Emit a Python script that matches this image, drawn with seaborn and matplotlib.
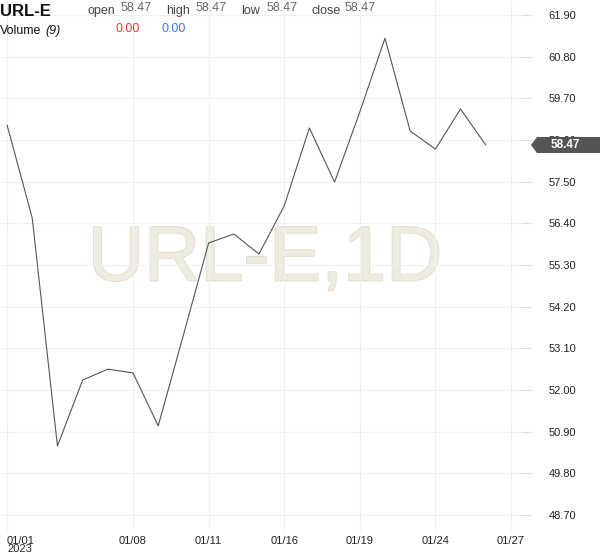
import matplotlib
matplotlib.use("Agg")
import matplotlib.pyplot as plt
import matplotlib.patheffects as pe
from matplotlib.patches import Polygon
import numpy as np
import pandas as pd
import seaborn as sns

# daily closes, one per trading session
closes = [59.00, 56.54, 50.52, 52.26, 52.55, 52.45, 51.05, 53.45, 55.88, 56.12,
          55.59, 56.86, 58.92, 57.49, 59.34, 61.29, 58.84, 58.36, 59.42, 58.47]
tick_pos = [0, 5, 8, 11, 14, 17, 20]
tick_labels = ["01/01\n2023", "01/08", "01/11", "01/16", "01/19", "01/24", "01/27"]
y_ticks = [48.70, 49.80, 50.90, 52.00, 53.10, 54.20, 55.30, 56.40, 57.50,
           58.60, 59.70, 60.80, 61.90]

df = pd.DataFrame({"idx": np.arange(len(closes)), "close": closes})

sns.set_style("white")
plt.rcParams["font.family"] = ["Liberation Sans", "DejaVu Sans"]

W, H = 600, 558
fig = plt.figure(figsize=(W / 100, H / 100), dpi=100)
ax = fig.add_axes([0, 1 - 530 / H, 521 / W, 530 / H])

sns.lineplot(data=df, x="idx", y="close", ax=ax, color="#555555", linewidth=0.8)

ax.set_xlim(-0.28, 20.40)
ax.set_ylim(48.30, 62.30)
ax.set_xticks(tick_pos)
ax.set_xticklabels(tick_labels, fontsize=8, color="#222222", linespacing=0.85)
ax.get_xticklabels()[0].set_ha("left")
ax.set_yticks(y_ticks)
ax.yaxis.tick_right()
ax.set_yticklabels([f"{v:.2f}" for v in y_ticks], fontsize=8, color="#222222")
ax.tick_params(axis="y", length=7, color="#dddddd", pad=13, width=0.8)
ax.tick_params(axis="x", length=0, pad=4)
ax.grid(True, color="#f0f0f0", linewidth=0.8)
ax.set_xlabel("")
ax.set_ylabel("")
for s in ax.spines.values():
    s.set_visible(False)

# watermark
fig.text(265 / W, 1 - 260 / H, "URL-E,1D", fontsize=56, color="#efebe0",
         ha="center", va="center", zorder=0,
         path_effects=[pe.withStroke(linewidth=1.2, foreground="#e2dccb")])
ax.set_zorder(1)
ax.patch.set_alpha(0)


def px(x, y):
    return x / W, 1 - y / H


# header
fig.text(*px(0, 11), "URL-E", fontsize=12, fontweight="bold", color="#111111", va="center")
labels = [("open", 87, 121), ("high", 166, 196), ("low", 241, 267), ("close", 311, 345)]
for name, lx, vx in labels:
    fig.text(*px(lx, 11), name, fontsize=9, color="#444444", va="center")
    fig.text(*px(vx, 8), f"{closes[-1]:.2f}", fontsize=9, color="#666666", va="center")
fig.text(*px(0, 31), "Volume", fontsize=9, color="#111111", va="center")
fig.text(*px(45, 31), "(9)", fontsize=9, color="#111111", va="center", style="italic")
fig.text(*px(116, 29), "0.00", fontsize=9, color="#e53935", va="center")
fig.text(*px(161, 29), "0.00", fontsize=9, color="#2f7ff0", va="center")

# last price tag
tag = Polygon([px(531, 145), px(537, 137), px(600, 137), px(600, 153), px(537, 153)],
              closed=True, transform=fig.transFigure, facecolor="#555555",
              edgecolor="none", zorder=5)
fig.patches.append(tag)
fig.text(*px(565, 145), f"{closes[-1]:.2f}", fontsize=8.5, fontweight="bold",
         color="white", ha="center", va="center", zorder=6)

fig.savefig("out.png", dpi=100)
